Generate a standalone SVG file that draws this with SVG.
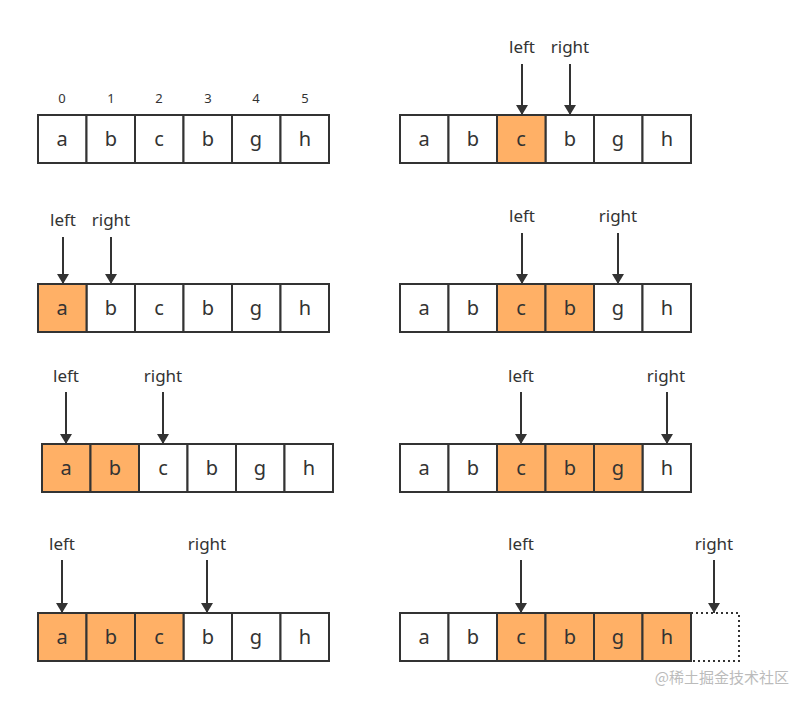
<svg xmlns="http://www.w3.org/2000/svg" width="809" height="707" viewBox="0 0 809 707">
<style>
.c{stroke:#333;stroke-width:2;fill:#fff}
.o{fill:#FFB066}
.d{stroke-dasharray:2 3;fill:none}
.t{font-family:"Noto Sans","Liberation Sans",sans-serif;font-size:20px;fill:#333;text-anchor:middle}
.i{font-family:"Noto Sans","Liberation Sans",sans-serif;font-size:13px;fill:#333;text-anchor:middle}
.l{font-family:"Noto Sans","Liberation Sans",sans-serif;font-size:17px;fill:#333;text-anchor:middle}
.a{stroke:#333;stroke-width:2;fill:none;marker-end:url(#ah)}
</style>
<defs>
<marker id="ah" viewBox="0 0 10 14" refX="10" refY="7" markerWidth="10" markerHeight="14" markerUnits="userSpaceOnUse" orient="auto"><path d="M0,1 L10,7 L0,13 Z" fill="#333"/></marker>
<g id="row"><rect class="c" x="0" y="0" width="48.5" height="48"/><rect class="c" x="48.5" y="0" width="48.5" height="48"/><rect class="c" x="97" y="0" width="48.5" height="48"/><rect class="c" x="145.5" y="0" width="48.5" height="48"/><rect class="c" x="194" y="0" width="48.5" height="48"/><rect class="c" x="242.5" y="0" width="48.5" height="48"/></g>
</defs>
<g id="arr-l1">
<g class="i"><text x="62" y="103">0</text><text x="111" y="103">1</text><text x="159" y="103">2</text><text x="208" y="103">3</text><text x="256" y="103">4</text><text x="305" y="103">5</text></g>
<use href="#row" x="38" y="115"/>
<g class="t"><text x="62" y="146">a</text><text x="111" y="146">b</text><text x="159" y="146">c</text><text x="208" y="146">b</text><text x="256" y="146">g</text><text x="305" y="146">h</text></g>
</g>
<g id="arr-l2">
<use href="#row" x="38" y="284"/>
<rect class="c o" x="38" y="284" width="48.5" height="48"/>
<g class="t"><text x="62" y="315">a</text><text x="111" y="315">b</text><text x="159" y="315">c</text><text x="208" y="315">b</text><text x="256" y="315">g</text><text x="305" y="315">h</text></g>
<text class="l" x="63" y="226">left</text><text class="l" x="111" y="226">right</text>
</g>
<g id="arr-l3">
<use href="#row" x="42" y="444"/>
<rect class="c o" x="42" y="444" width="48.5" height="48"/><rect class="c o" x="90.5" y="444" width="48.5" height="48"/>
<g class="t"><text x="66" y="475">a</text><text x="115" y="475">b</text><text x="163" y="475">c</text><text x="212" y="475">b</text><text x="260" y="475">g</text><text x="309" y="475">h</text></g>
<text class="l" x="66" y="382">left</text><text class="l" x="163" y="382">right</text>
</g>
<g id="arr-l4">
<use href="#row" x="38" y="613"/>
<rect class="c o" x="38" y="613" width="48.5" height="48"/><rect class="c o" x="86.5" y="613" width="48.5" height="48"/><rect class="c o" x="135" y="613" width="48.5" height="48"/>
<g class="t"><text x="62" y="644">a</text><text x="111" y="644">b</text><text x="159" y="644">c</text><text x="208" y="644">b</text><text x="256" y="644">g</text><text x="305" y="644">h</text></g>
<text class="l" x="62" y="550">left</text><text class="l" x="207" y="550">right</text>
</g>
<g id="arr-r1">
<use href="#row" x="400" y="115"/>
<rect class="c o" x="497" y="115" width="48.5" height="48"/>
<g class="t"><text x="424" y="146">a</text><text x="473" y="146">b</text><text x="521" y="146">c</text><text x="570" y="146">b</text><text x="618" y="146">g</text><text x="667" y="146">h</text></g>
<text class="l" x="522" y="53">left</text><text class="l" x="570" y="53">right</text>
</g>
<g id="arr-r2">
<use href="#row" x="400" y="284"/>
<rect class="c o" x="497" y="284" width="48.5" height="48"/><rect class="c o" x="545.5" y="284" width="48.5" height="48"/>
<g class="t"><text x="424" y="315">a</text><text x="473" y="315">b</text><text x="521" y="315">c</text><text x="570" y="315">b</text><text x="618" y="315">g</text><text x="667" y="315">h</text></g>
<text class="l" x="522" y="222">left</text><text class="l" x="618" y="222">right</text>
</g>
<g id="arr-r3">
<use href="#row" x="400" y="444"/>
<rect class="c o" x="497" y="444" width="48.5" height="48"/><rect class="c o" x="545.5" y="444" width="48.5" height="48"/><rect class="c o" x="594" y="444" width="48.5" height="48"/>
<g class="t"><text x="424" y="475">a</text><text x="473" y="475">b</text><text x="521" y="475">c</text><text x="570" y="475">b</text><text x="618" y="475">g</text><text x="667" y="475">h</text></g>
<text class="l" x="521" y="382">left</text><text class="l" x="666" y="382">right</text>
</g>
<g id="arr-r4">
<use href="#row" x="400" y="613"/>
<rect class="c o" x="497" y="613" width="48.5" height="48"/><rect class="c o" x="545.5" y="613" width="48.5" height="48"/><rect class="c o" x="594" y="613" width="48.5" height="48"/><rect class="c o" x="642.5" y="613" width="48.5" height="48"/>
<rect class="c d" x="691" y="613" width="48" height="48"/>
<g class="t"><text x="424" y="644">a</text><text x="473" y="644">b</text><text x="521" y="644">c</text><text x="570" y="644">b</text><text x="618" y="644">g</text><text x="667" y="644">h</text></g>
<text class="l" x="521" y="550">left</text><text class="l" x="714" y="550">right</text>
</g>
<g id="connectors">
<line class="a" x1="63" y1="237" x2="63" y2="284"/>
<line class="a" x1="111" y1="237" x2="111" y2="284"/>
<line class="a" x1="66" y1="392" x2="66" y2="444"/>
<line class="a" x1="163" y1="392" x2="163" y2="444"/>
<line class="a" x1="62" y1="560" x2="62" y2="613"/>
<line class="a" x1="207" y1="560" x2="207" y2="613"/>
<line class="a" x1="522" y1="64" x2="522" y2="115"/>
<line class="a" x1="570" y1="64" x2="570" y2="115"/>
<line class="a" x1="522" y1="233" x2="522" y2="284"/>
<line class="a" x1="618" y1="233" x2="618" y2="284"/>
<line class="a" x1="521" y1="392" x2="521" y2="444"/>
<line class="a" x1="667" y1="392" x2="667" y2="444"/>
<line class="a" x1="521" y1="560" x2="521" y2="613"/>
<line class="a" x1="714" y1="560" x2="714" y2="613"/>
</g>
<text x="789" y="683" style="font-family:'Noto Sans CJK SC',sans-serif;font-size:15px;fill:#bbb;text-anchor:end">@稀土掘金技术社区</text>
</svg>
